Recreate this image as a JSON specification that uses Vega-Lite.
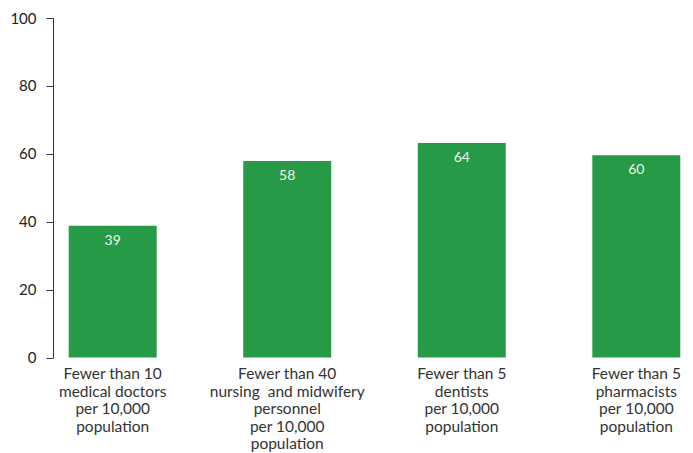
{
  "$schema": "https://vega.github.io/schema/vega-lite/v6.json",
  "autosize": {"type": "none"},
  "padding": {"left": 53, "top": 18, "right": 0, "bottom": 96},
  "width": 643,
  "height": 339.5,
  "config": {"view": {"stroke": null}, "font": "Lato"},
  "data": {"values": [
    {"category": "Fewer than 10|medical doctors|per 10,000|population", "value": 38.8, "label": "39"},
    {"category": "Fewer than 40|nursing \u00a0and midwifery|personnel|per 10,000|population", "value": 57.9, "label": "58"},
    {"category": "Fewer than 5|dentists|per 10,000|population", "value": 63.2, "label": "64"},
    {"category": "Fewer than 5|pharmacists|per 10,000|population", "value": 59.6, "label": "60"}
  ]},
  "encoding": {
    "x": {"field": "category", "type": "nominal", "sort": null,
      "scale": {"paddingInner": 0.496, "paddingOuter": 0.09},
      "axis": {"title": null, "domain": false, "ticks": false, "labelAngle": 0, "labelPadding": 9,
        "labelExpr": "split(datum.label, '|')", "labelFontSize": 15.5, "labelLineHeight": 17.5,
        "labelColor": "#333333", "labelBaseline": "top"}},
    "y": {"field": "value", "type": "quantitative",
      "scale": {"domain": [0, 100], "nice": false},
      "axis": {"title": null, "values": [0, 20, 40, 60, 80, 100], "grid": false, "tickSize": 7,
        "labelPadding": 10, "labelFontSize": 15, "labelColor": "#222222",
        "domainColor": "#333333", "tickColor": "#333333"}}
  },
  "layer": [
    {"mark": {"type": "bar", "color": "#279a48"}},
    {"mark": {"type": "text", "baseline": "middle", "dy": 15, "color": "#eef7ee", "fontSize": 14},
     "encoding": {"text": {"field": "label"}}}
  ]
}
